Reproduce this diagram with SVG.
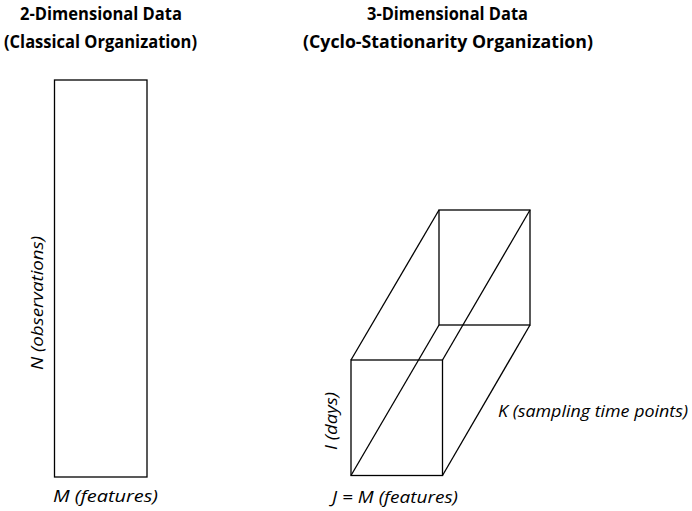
<svg xmlns="http://www.w3.org/2000/svg" width="692" height="511" viewBox="0 0 692 511">
  <style>
    .title { font-family: "Open Sans", "Liberation Sans", sans-serif; font-weight: bold; font-size: 17.5px; fill: #000; }
    .label { font-family: "Open Sans", "Liberation Sans", sans-serif; font-style: italic; font-size: 17px; fill: #000; }
    .edge { fill: none; stroke: #000; stroke-width: 1.3; }
  </style>
  <rect width="692" height="511" fill="#fff"/>

  <!-- headings -->
  <g id="heading-2d">
    <text class="title" x="20" y="20" textLength="162" lengthAdjust="spacingAndGlyphs">2-Dimensional Data</text>
    <text class="title" x="4" y="48" textLength="193" lengthAdjust="spacingAndGlyphs">(Classical Organization)</text>
  </g>
  <g id="heading-3d">
    <text class="title" x="367" y="20" textLength="161" lengthAdjust="spacingAndGlyphs">3-Dimensional Data</text>
    <text class="title" x="303" y="48" textLength="290" lengthAdjust="spacingAndGlyphs">(Cyclo-Stationarity Organization)</text>
  </g>

  <!-- 2-D matrix -->
  <g id="matrix-2d">
    <rect class="edge" x="54.5" y="80" width="92.5" height="397"/>
    <text class="label" transform="translate(43,303) rotate(-90)" text-anchor="middle" textLength="134" lengthAdjust="spacingAndGlyphs">N (observations)</text>
    <text class="label" x="53" y="502" textLength="105" lengthAdjust="spacingAndGlyphs">M (features)</text>
  </g>

  <!-- 3-D data cube -->
  <g id="cube-3d">
    <rect class="edge" x="439" y="210" width="91" height="115"/>
    <rect class="edge" x="351" y="360" width="91.5" height="115.5"/>
    <text class="label" transform="translate(337,421) rotate(-90)" text-anchor="middle" textLength="58" lengthAdjust="spacingAndGlyphs">I (days)</text>
    <text class="label" x="332" y="503" textLength="126" lengthAdjust="spacingAndGlyphs">J = M (features)</text>
    <text class="label" x="498" y="417" textLength="190" lengthAdjust="spacingAndGlyphs">K (sampling time points)</text>
  </g>

  <!-- depth edges joining front and back faces -->
  <g id="connectors">
    <line class="edge" x1="351" y1="360" x2="439" y2="210"/>
    <line class="edge" x1="442.5" y1="360" x2="530" y2="210"/>
    <line class="edge" x1="442.5" y1="475.5" x2="530" y2="325"/>
    <line class="edge" x1="351" y1="475.5" x2="439" y2="325"/>
  </g>
</svg>
